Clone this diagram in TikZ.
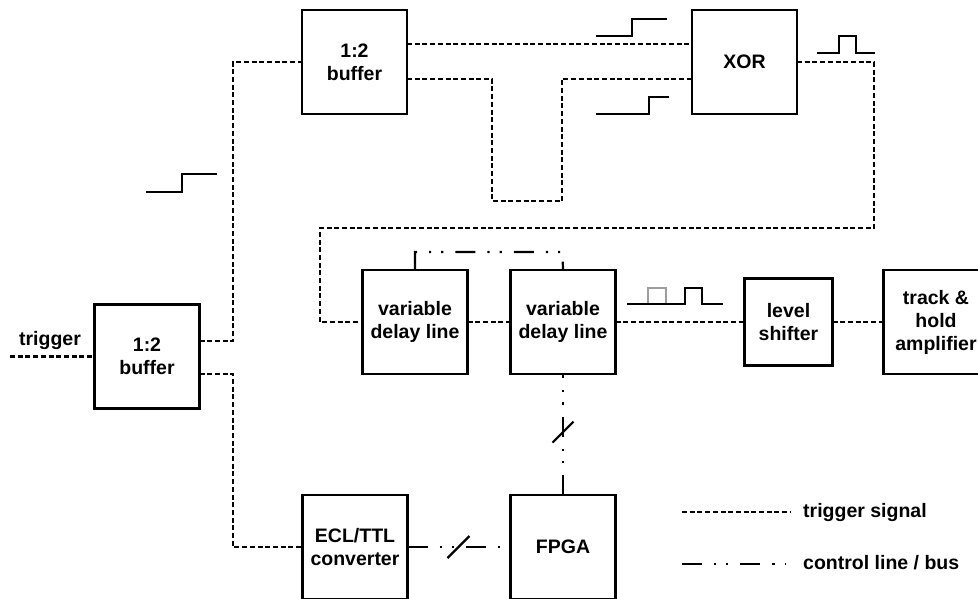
\documentclass[tikz,border=0pt]{standalone}
\usepackage{fontspec}
\setmainfont{Liberation Sans}
\usetikzlibrary{positioning,calc}

\begin{document}
\begin{tikzpicture}[
  x=1pt, y=-1pt,
  font=\bfseries\fontsize{19.5}{23}\selectfont,
  block/.style={draw, line width=2.4pt, align=center, minimum width=105pt,
                minimum height=104pt, inner sep=2pt, outer sep=0pt},
  trig/.style={line width=2.2pt, dash pattern=on 5pt off 2.7pt},
  ctrl/.style={line width=2.2pt,
               dash pattern=on 20pt off 12pt on 2.2pt off 10pt on 2.2pt off 12pt},
  wave/.style={line width=2.2pt},
  ghost/.style={wave, draw=black!38}
]
\useasboundingbox (0,0) rectangle (978,598);

\node[block] (buf0) at (147,356.5) {1:2\\buffer};
\node[block] (buf1) at (354.5,62) {1:2\\buffer};
\node[block, right=285pt of buf1] (xor) {XOR};
\node[block] (vdlA) at (415,322) {variable\\delay line};
\node[block, right=43pt of vdlA] (vdlB) {variable\\delay line};
\node[block, minimum width=88pt, minimum height=87pt, right=129pt of vdlB] (shift) {level\\shifter};
\node[block, right=51pt of shift] (hold) {track \&\\hold\\amplifier};
\node[block, below=121pt of vdlB] (fpga) {FPGA};
\node[block, left=103pt of fpga] (ecl) {ECL/TTL\\converter};

\node[anchor=base] (trigtxt) at (50,345) {trigger};
\coordinate (trigin) at (10,356.5);
\draw[trig] (trigin) -- (buf0.west);

\draw[trig] ([yshift=15.5pt]buf0.east) -| (233,62) -- (buf1.west);
\draw[trig] ([yshift=-17.5pt]buf0.east) -| (233,547) -- (ecl.west);
\draw[trig] ([yshift=18pt]buf1.east) -- ([yshift=18pt]xor.west);
\draw[trig] ([yshift=-17pt]buf1.east) -| (492,201) -| (562,79) -- ([yshift=-17pt]xor.west);
\draw[trig] (xor.east) -| (874,228) -| (320,322) -- (vdlA.west);
\draw[trig] (vdlA.east) -- (vdlB.west);
\draw[trig] (vdlB.east) -- (shift.west);
\draw[trig] (shift.east) -- (hold.west);

\draw[ctrl] (vdlA.north) |- (562.5,252) -- (vdlB.north);
\draw[ctrl] (fpga.north) -- coordinate[pos=0.52] (busV) (vdlB.south);
\draw[ctrl] (ecl.east) -- coordinate[pos=0.495] (busH) (fpga.west);
\draw[wave] ($(busV)+(-10.5,10.5)$) -- ($(busV)+(10.5,-10.5)$);
\draw[wave] ($(busH)+(-11,11)$) -- ($(busH)+(11,-11)$);

\draw[wave] (146,192) -| (182,174) -- (217,174);
\draw[wave] (596,36) -| (632,19) -- (667,19);
\draw[wave] (596,114) -| (649,97) -- (669,97);
\draw[wave] (817,53) -| (839,36) -| (856,53) -- (875,53);
\draw[ghost] (648,304) |- (666,288) -- (666,304);
\draw[wave] (627,304) -| (685,288) -| (702,304) -- (723,304);

\node[anchor=base west, inner sep=0pt] (legtrig) at (803,517) {trigger signal};
\node[anchor=base west, inner sep=0pt] (legctrl) at (803,569) {control line / bus};
\coordinate (legTa) at (682,512);
\coordinate (legTb) at (790,512);
\draw[trig] (legTa) -- (legTb);
\coordinate (legCa) at (682,564);
\coordinate (legCb) at (786,564);
\draw[ctrl] (legCa) -- (legCb);
\end{tikzpicture}
\end{document}
